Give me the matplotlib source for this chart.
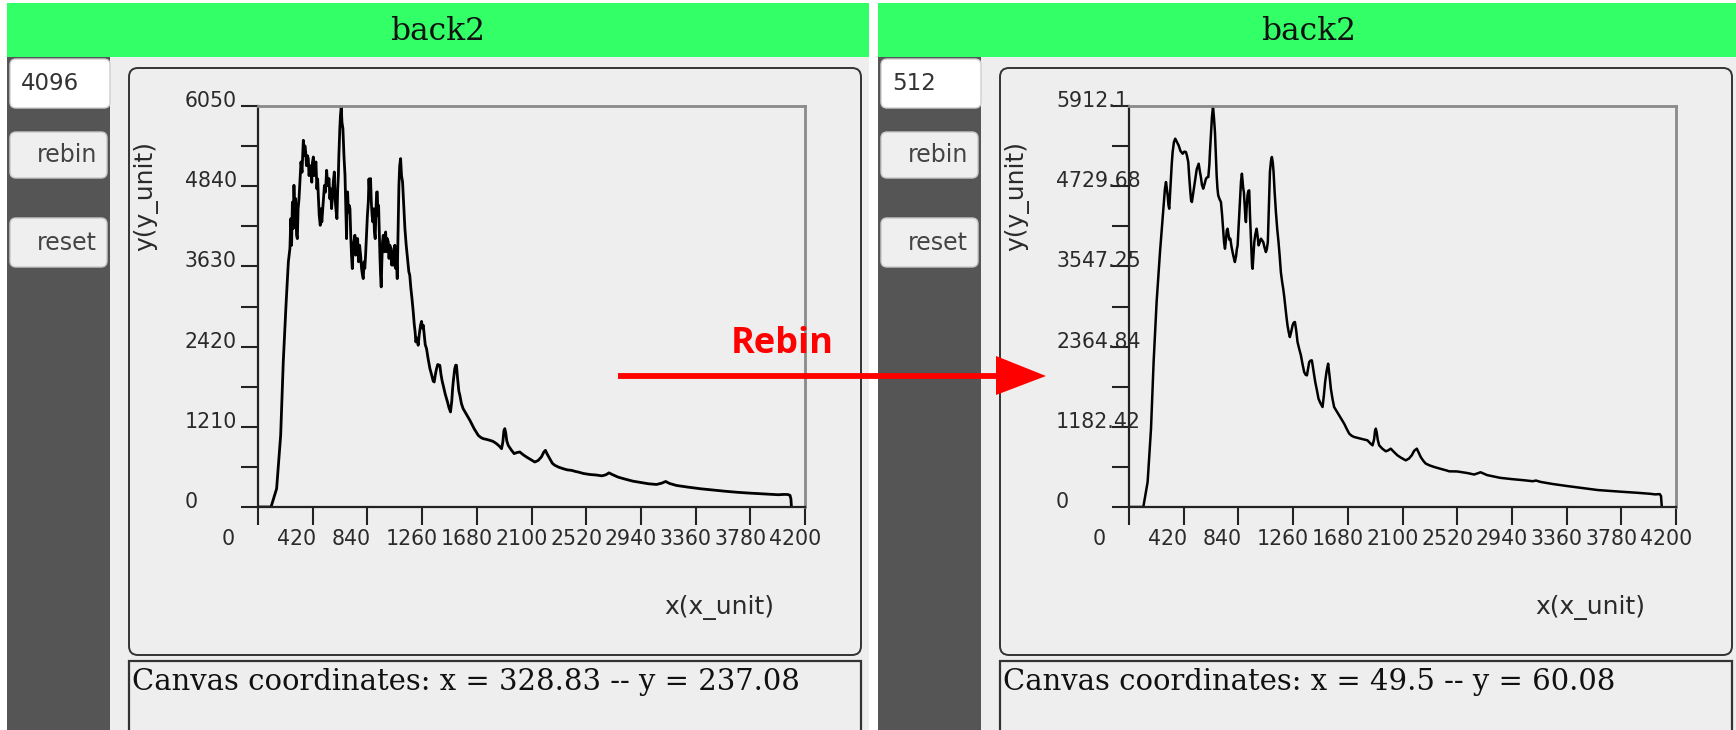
import matplotlib
matplotlib.use('Agg')
import matplotlib.pyplot as plt
from matplotlib.patches import FancyBboxPatch, Rectangle, Polygon
from matplotlib.transforms import ScaledTranslation, blended_transform_factory

W, H, DPI = 1736, 730, 100

# ---- data ----
# fine binning (4096 bins)
fine_x = [0, 100, 143, 174, 194, 215, 233, 245, 252, 258, 264, 270, 276, 283, 289, 296, 302, 308, 315, 322,
          330, 338, 348, 355, 360, 366, 372, 380, 386, 392, 400, 407, 413, 418, 425, 432, 438, 445, 452, 458,
          463, 470, 478, 485, 490, 501, 510, 518, 527, 535, 545, 552, 558, 565, 572, 578, 586, 592, 598, 606,
          612, 617, 621, 628, 633, 639, 645, 652, 660, 668, 674, 680, 684, 688, 694, 700, 706, 712, 718, 724,
          730, 736, 744, 750, 756, 765, 772, 780, 788, 795, 802, 808, 815, 820, 826, 833, 840, 847, 852, 858,
          864, 870, 876, 882, 888, 894, 900, 906, 911, 916, 921, 926, 931, 936, 941, 946, 951, 956, 962, 968,
          974, 980, 986, 992, 1000, 1006, 1012, 1020, 1026, 1032, 1038, 1044, 1051, 1057, 1063, 1069, 1075,
          1082, 1088, 1095, 1102, 1110, 1118, 1128, 1138, 1148, 1158, 1165, 1174, 1182, 1192, 1200, 1206,
          1212, 1220, 1230, 1238, 1248, 1256, 1262, 1269, 1276, 1284, 1294, 1305, 1320, 1335, 1345, 1353,
          1362, 1371, 1380, 1390, 1396, 1405, 1414, 1422, 1438, 1455, 1466, 1478, 1488, 1494, 1499, 1510,
          1518, 1524, 1532, 1542, 1550, 1562, 1575, 1600, 1627, 1660, 1691, 1710, 1729, 1755, 1780, 1805,
          1831, 1852, 1870, 1880, 1888, 1895, 1902, 1910, 1921, 1945, 1967, 1985, 2010, 2035, 2061, 2090,
          2125, 2150, 2176, 2195, 2207, 2220, 2240, 2260, 2279, 2310, 2343, 2375, 2407, 2440, 2458, 2500,
          2550, 2600, 2640, 2670, 2695, 2720, 2766, 2820, 2878, 2940, 3000, 3060, 3100, 3130, 3160, 3213,
          3300, 3399, 3500, 3585, 3680, 3771, 3880, 3995, 4040, 4069, 4085, 4092, 4096]
fine_y = [0, 0, 277, 1081, 2188, 3043, 3697, 3900, 4350, 3950, 4600, 4200, 4854, 4400, 4653, 4100, 4049, 4500,
          4653, 4900, 5206, 5050, 5533, 5300, 5450, 5357, 5150, 5300, 5256, 5000, 5150, 5055, 4900, 5200, 5281,
          5000, 5150, 5206, 4800, 4950, 4703, 4400, 4250, 4500, 4300, 4603, 4850, 4750, 5080, 4850, 4955, 4650,
          4800, 4502, 4700, 4900, 5055, 4650, 4500, 4351, 4800, 5000, 5307, 5700, 5900, 6036, 5800, 5709, 5300,
          5005, 4500, 4049, 4600, 4754, 4450, 4550, 4502, 4100, 3800, 3597, 3900, 4000, 4100, 3800, 4050, 4049,
          3700, 3950, 3798, 3600, 3500, 3446, 3700, 3600, 3798, 4100, 4400, 4603, 4950, 4700, 4955, 4600, 4400,
          4301, 4500, 4150, 4049, 4500, 4750, 4754, 4400, 4550, 4150, 3800, 3500, 3320, 3700, 4000, 4100, 3850,
          4050, 4150, 3850, 4050, 3999, 3750, 3950, 3898, 3650, 3850, 3647, 3900, 3949, 3600, 3750, 3446, 4100,
          4854, 5150, 5256, 5000, 4904, 4600, 4200, 3950, 3748, 3550, 3500, 3295, 3150, 2943, 2750, 2650, 2490,
          2550, 2440, 2600, 2742, 2800, 2700, 2742, 2600, 2450, 2389, 2250, 2088, 1980, 1900, 1886, 2000, 2088,
          2150, 2140, 2138, 2000, 1900, 1836, 1700, 1585, 1500, 1434, 1600, 1780, 1886, 2080, 2140, 2138, 1950,
          1750, 1685, 1560, 1484, 1400, 1308, 1180, 1081, 1050, 1031, 1020, 1006, 990, 956, 920, 880, 980, 1150,
          1182, 1120, 1000, 931, 860, 805, 820, 830, 790, 755, 720, 679, 700, 755, 830, 855, 800, 729, 660, 629,
          600, 578, 560, 553, 535, 528, 505, 490, 482, 470, 485, 515, 490, 450, 420, 390, 370, 350, 340, 360,
          385, 355, 325, 300, 275, 255, 238, 222, 210, 198, 185, 190, 188, 175, 120, 0]

# coarse binning (512 bins)
coarse_x = [0, 110, 143, 169, 189, 212, 238, 258, 276, 284, 290, 297, 303, 309, 315, 322, 328, 335, 345, 355,
            368, 381, 395, 412, 425, 437, 445, 455, 463, 471, 477, 483, 495, 509, 520, 535, 544, 552, 560, 570,
            580, 591, 600, 609, 617, 622, 629, 637, 645, 652, 660, 667, 673, 679, 685, 695, 706, 715, 724, 730,
            737, 745, 751, 757, 765, 771, 778, 786, 795, 804, 813, 822, 828, 834, 842, 848, 852, 860, 867, 872,
            877, 882, 888, 894, 898, 903, 910, 916, 923, 929, 936, 941, 945, 949, 955, 962, 970, 980, 987, 995,
            1004, 1013, 1022, 1031, 1040, 1051, 1058, 1066, 1072, 1077, 1082, 1090, 1097, 1104, 1110, 1118,
            1128, 1138, 1148, 1157, 1166, 1175, 1184, 1192, 1199, 1208, 1217, 1226, 1235, 1245, 1256, 1265,
            1274, 1284, 1294, 1307, 1320, 1332, 1345, 1356, 1366, 1375, 1384, 1395, 1404, 1417, 1430, 1443,
            1455, 1470, 1486, 1496, 1506, 1517, 1529, 1540, 1550, 1562, 1575, 1595, 1614, 1632, 1652, 1672,
            1691, 1710, 1729, 1755, 1780, 1805, 1831, 1852, 1870, 1882, 1889, 1895, 1902, 1910, 1921, 1945,
            1972, 1990, 2010, 2035, 2061, 2090, 2125, 2150, 2171, 2190, 2210, 2225, 2240, 2260, 2279, 2310,
            2343, 2375, 2407, 2440, 2458, 2520, 2600, 2650, 2700, 2750, 2850, 2940, 3030, 3100, 3125, 3160,
            3250, 3360, 3480, 3600, 3780, 3900, 4000, 4040, 4075, 4085, 4091]
coarse_y = [0, 0, 369, 1155, 2138, 3022, 3759, 4251, 4693, 4791, 4700, 4595, 4450, 4398, 4600, 4840, 5050,
            5233, 5380, 5430, 5380, 5332, 5250, 5209, 5240, 5233, 5180, 5086, 4850, 4644, 4520, 4496, 4650,
            4840, 4980, 5061, 4950, 4865, 4750, 4693, 4760, 4840, 4860, 4865, 5050, 5250, 5479, 5750, 5897,
            5750, 5528, 5200, 4889, 4700, 4595, 4540, 4496, 4300, 4054, 3900, 3808, 3950, 4080, 4103, 4000,
            3940, 3956, 3850, 3759, 3680, 3612, 3700, 3800, 3857, 4150, 4400, 4496, 4800, 4914, 4800, 4700,
            4644, 4450, 4260, 4201, 4400, 4595, 4660, 4668, 4300, 3956, 3700, 3550, 3513, 3700, 3906, 4020,
            4103, 4000, 3857, 3900, 3956, 3930, 3906, 3830, 3759, 3800, 3906, 4300, 4650, 4939, 5100, 5160,
            5080, 4939, 4650, 4349, 4100, 3906, 3700, 3464, 3330, 3219, 3100, 2973, 2820, 2678, 2580, 2506,
            2580, 2678, 2720, 2727, 2600, 2432, 2330, 2236, 2110, 1990, 1950, 1941, 2040, 2138, 2160, 2162,
            2000, 1843, 1720, 1597, 1530, 1474, 1640, 1843, 2000, 2113, 1930, 1744, 1600, 1474, 1410, 1351,
            1290, 1229, 1150, 1081, 1050, 1032, 1020, 1007, 995, 983, 940, 909, 1000, 1120, 1155, 1100, 990,
            909, 860, 821, 835, 860, 810, 762, 725, 688, 715, 762, 830, 860, 800, 737, 680, 639, 612, 590, 572,
            555, 538, 526, 524, 500, 479, 512, 470, 430, 411, 395, 380, 390, 370, 340, 310, 280, 250, 225, 210,
            195, 186, 190, 160, 0]

x_ticks = [0, 420, 840, 1260, 1680, 2100, 2520, 2940, 3360, 3780, 4200]
fine_yticks = [0, 1210, 2420, 3630, 4840, 6050]
fine_ylabels = ['0', '1210', '2420', '3630', '4840', '6050']
coarse_yticks = [0, 1182.42, 2364.84, 3547.25, 4729.68, 5912.1]
coarse_ylabels = ['0', '1182.42', '2364.84', '3547.25', '4729.68', '5912.1']
bins_text = ['4096', '512']
coord_text = ['Canvas coordinates: x = 328.83 -- y = 237.08',
              'Canvas coordinates: x = 49.5 -- y = 60.08']

GREEN = '#33ff66'
DARK = '#555555'
LIGHT = '#eeeeee'
INK = '#222222'


def px(dx, dy):
    # offset in screen pixels, dy positive downward
    return ScaledTranslation(dx / DPI, -dy / DPI, fig.dpi_scale_trans)


fig = plt.figure(figsize=(W / DPI, H / DPI), dpi=DPI)
fig.patch.set_facecolor('white')
bg = fig.add_axes([0, 0, 1, 1])
bg.set_xlim(0, W)
bg.set_ylim(H, 0)
bg.axis('off')


def draw_frame(p, nbins, ctext):
    bg.add_patch(Rectangle((p, 57), 103, H - 57, fc=DARK, ec='none'))
    bg.add_patch(Rectangle((p + 103, 57), 759, H - 57, fc=LIGHT, ec='none'))
    bg.add_patch(Rectangle((p, 3), 862, 54, fc=GREEN, ec='none'))
    bg.text(p + 431, 31, 'back2', family='DejaVu Serif', fontsize=22.5, ha='center', va='center', color='#111')

    # bin count input and buttons
    bg.add_patch(FancyBboxPatch((p + 3, 59), 100, 49, boxstyle='round,pad=0,rounding_size=6',
                                fc='white', ec='#cfcfcf', lw=1))
    bg.text(p + 14, 84, nbins, fontsize=16.5, ha='left', va='center', color='#333')
    for y0, h, label in [(132, 46, 'rebin'), (218, 49, 'reset')]:
        bg.add_patch(FancyBboxPatch((p + 3, y0), 97, h, boxstyle='round,pad=0,rounding_size=6',
                                    fc='#efefef', ec='#c8c8c8', lw=1))
        bg.text(p + 90, y0 + h / 2, label, fontsize=17, ha='right', va='center', color='#444')

    # canvas and coordinate boxes
    bg.add_patch(FancyBboxPatch((p + 122, 68), 732, 587, boxstyle='round,pad=0,rounding_size=9',
                                fc=LIGHT, ec='#333333', lw=1.4))
    bg.add_patch(Rectangle((p + 122, 661), 732, 90, fc=LIGHT, ec='#333333', lw=1.6))
    bg.text(p + 125, 682, ctext, family='DejaVu Serif', fontsize=20.9, ha='left', va='center', color='#111')


def draw_hist(p, xs, ys, ymax, yticks, ylabels, lw):
    ax = fig.add_axes([(p + 251) / W, 1 - 507 / H, 547 / W, 401 / H])
    ax.set_facecolor('none')
    ax.plot(xs, ys, color='black', lw=lw, solid_joinstyle='round')
    ax.set_xlim(0, 4200)
    ax.set_ylim(0, ymax)

    for side in ['left', 'bottom']:
        ax.spines[side].set_color(INK)
        ax.spines[side].set_linewidth(1.6)
    for side in ['top', 'right']:
        ax.spines[side].set_color('#8a8a8a')
        ax.spines[side].set_linewidth(2.0)

    ax.set_xticks(x_ticks)
    ax.set_yticks(yticks)
    ax.set_yticks([(a + b) / 2 for a, b in zip(yticks[:-1], yticks[1:])], minor=True)
    ax.tick_params(axis='x', direction='out', length=13, width=1.5, color=INK, labelbottom=False)
    ax.tick_params(axis='y', which='both', direction='out', length=12, width=1.5, color=INK, labelleft=False)

    tx = blended_transform_factory(ax.transData, ax.transAxes)
    for v in x_ticks:
        ax.text(v, 0, str(v), transform=tx + px(-36, 38), ha='left', va='baseline', fontsize=14.8, color='#2a2a2a')
    ty = blended_transform_factory(ax.transAxes, ax.transData)
    for v, lab in zip(yticks, ylabels):
        ax.text(0, v, lab, transform=ty + px(-73, 1), ha='left', va='baseline', fontsize=14.8, color='#2a2a2a')

    ax.text(0, 0, 'x(x_unit)', transform=ax.transAxes + px(406, 100), ha='left', va='center',
            fontsize=18, color='#2a2a2a')
    ax.text(0, 1, 'y(y_unit)', transform=ax.transAxes + px(-112, 90), ha='center', va='center',
            rotation=90, fontsize=18, color='#2a2a2a')
    return ax


draw_frame(7, bins_text[0], coord_text[0])
draw_frame(878, bins_text[1], coord_text[1])
draw_hist(7, fine_x, fine_y, 6050, fine_yticks, fine_ylabels, 2.0)
draw_hist(878, coarse_x, coarse_y, 5912.1, coarse_yticks, coarse_ylabels, 1.8)

# red annotation arrow across the two panels
top = fig.add_axes([0, 0, 1, 1], zorder=10)
top.set_xlim(0, W)
top.set_ylim(H, 0)
top.axis('off')
top.plot([618, 1000], [376, 376], color='red', lw=4.2, solid_capstyle='butt')
top.add_patch(Polygon([(996, 356), (1046, 376), (996, 395)], closed=True, fc='red', ec='none'))
top.text(782, 344, 'Rebin', family='Open Sans', fontweight='bold', fontsize=26, color='red',
         ha='center', va='center')

fig.savefig('out.png', dpi=DPI)
